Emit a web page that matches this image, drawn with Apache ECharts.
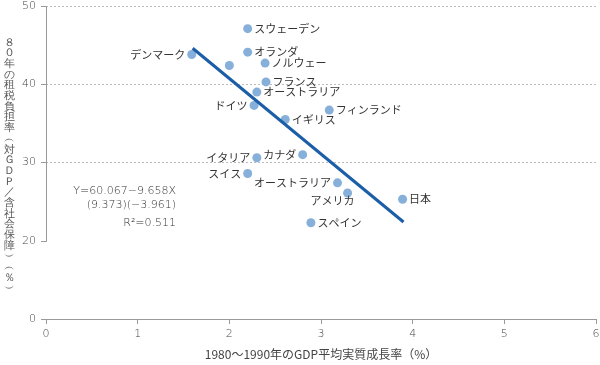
<!DOCTYPE html>
<html>
<head>
<meta charset="utf-8">
<script src="https://cdn.jsdelivr.net/npm/echarts@6/dist/echarts.min.js"></script>
<style>html,body{margin:0;padding:0;background:#fff}#c{width:600px;height:365px}</style>
</head>
<body>
<div id="c"></div>
<script>
// ---- data ----
const countries = ['スウェーデン','オランダ','ノルウェー','デンマーク','','フランス','オーストラリア','ドイツ','フィンランド','イギリス','カナダ','イタリア','スイス','オーストラリア','アメリカ','日本','スペイン'];
const growth    = [2.2, 2.2, 2.39, 1.59, 2.0, 2.4, 2.3, 2.27, 3.09, 2.61, 2.8, 2.3, 2.2, 3.18, 3.29, 3.89, 2.89];
const taxBurden = [47.1, 44.1, 42.7, 43.8, 42.4, 40.3, 39.0, 37.3, 36.7, 35.5, 31.0, 30.6, 28.6, 27.4, 26.1, 25.3, 22.3];
const fitX = [1.6, 3.9];
const fitY = [44.6, 22.4];
const xTicks = [0, 1, 2, 3, 4, 5, 6];
const yTicks = [0, 20, 30, 40, 50];
const equationLines = ['Y=60.067−9.658X', '(9.373)(−3.961)', 'R²=0.511'];
const yTitle = '８０年の租税負担率︵対ＧＤＰ／含社会保障︶︵％︶';
const xTitle = '1980～1990年のGDP平均実質成長率（%）';

// ---- styling (label sides) ----
const labelSide = ['right','right','right','left',null,'right','right','left','right','right','left','left','left','left','below','right','right'];

const FONT = '"Noto Sans CJK JP", "Noto Sans", sans-serif';
const NUMFONT = '"DejaVu Sans", sans-serif';

const scatterData = countries.map((n, i) => {
  const side = labelSide[i];
  let label;
  if (!side) label = { show: false };
  else if (side === 'below') label = { show: true, position: 'bottom', distance: 0, offset: [-15, -2] };
  else label = { show: true, position: side, distance: 2 };
  return { name: n, value: [growth[i], taxBurden[i]], label };
});

const chart = echarts.init(document.getElementById('c'), null, { renderer: 'canvas' });
chart.setOption({
  animation: false,
  textStyle: { fontFamily: FONT },
  grid: { left: 46, right: 4, top: 6, bottom: 46, outerBoundsMode: 'none', containLabel: false },
  xAxis: {
    type: 'value', min: xTicks[0], max: xTicks[xTicks.length - 1], interval: 1,
    name: xTitle, nameLocation: 'middle', nameGap: 29,
    nameTextStyle: { fontSize: 12, color: '#444', fontFamily: FONT },
    axisLine: { show: true, lineStyle: { color: '#999', width: 1 } },
    axisTick: { show: true, length: 5, lineStyle: { color: '#999' } },
    axisLabel: { fontSize: 11, color: '#444', margin: 10, fontFamily: NUMFONT, fontWeight: 200 },
    splitLine: { show: false }
  },
  yAxis: {
    type: 'value', min: yTicks[0], max: yTicks[yTicks.length - 1], interval: 10,
    breaks: [{ start: yTicks[0], end: yTicks[1], gap: '25%' }],
    breakArea: { show: false },
    axisLine: { show: true, lineStyle: { color: '#999', width: 1 } },
    axisTick: { show: true, length: 5, lineStyle: { color: '#999' } },
    axisLabel: { fontSize: 11, color: '#444', margin: 10, fontFamily: NUMFONT, fontWeight: 200 },
    splitLine: { show: true, lineStyle: { color: '#bbb', type: [2, 2], width: 1 } }
  },
  graphic: [
    { type: 'text', left: 4, top: 37, z: 10,
      style: { text: yTitle.split('').join('\n'), fontSize: 11, lineHeight: 10.7, fill: '#555', align: 'center', textAlign: 'center', font: '11px ' + FONT } },
    { type: 'text', x: 176, y: 191, style: { text: equationLines[0], fontSize: 11, fill: '#333', textAlign: 'right', textVerticalAlign: 'middle', fontFamily: NUMFONT, fontWeight: 200 } },
    { type: 'text', x: 176, y: 205, style: { text: equationLines[1], fontSize: 11, fill: '#333', textAlign: 'right', textVerticalAlign: 'middle', fontFamily: NUMFONT, fontWeight: 200 } },
    { type: 'text', x: 176, y: 223, style: { text: equationLines[2], fontSize: 11, fill: '#333', textAlign: 'right', textVerticalAlign: 'middle', fontFamily: NUMFONT, fontWeight: 200 } }
  ],
  series: [
    {
      type: 'scatter', symbolSize: 9,
      itemStyle: { color: '#86afd9', opacity: 1 },
      label: { formatter: '{b}', fontSize: 11, color: '#333', fontFamily: FONT },
      data: scatterData, z: 2
    },
    {
      type: 'line', symbol: 'none',
      lineStyle: { color: '#1b5ea7', width: 3 },
      data: fitX.map((x, i) => [x, fitY[i]]), z: 3
    }
  ]
});
</script>
</body>
</html>
